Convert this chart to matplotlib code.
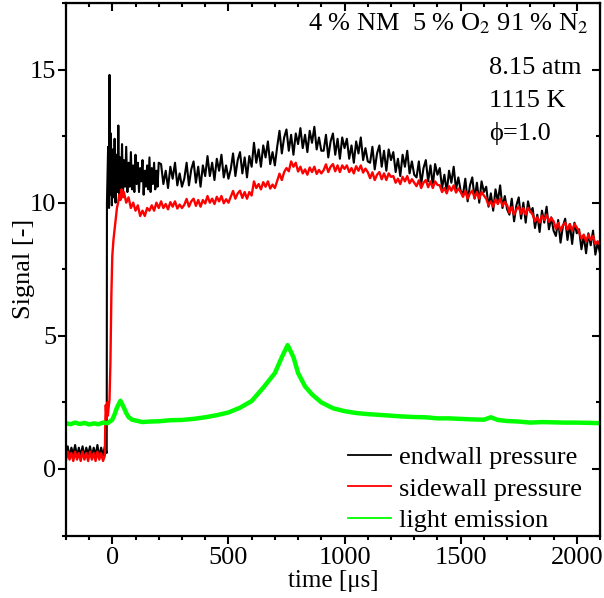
import matplotlib
matplotlib.use("Agg")
import matplotlib.pyplot as plt
from matplotlib.ticker import MultipleLocator

plt.rcParams['font.family'] = ['Liberation Serif', 'DejaVu Serif']
plt.rcParams['mathtext.fontset'] = 'stix'

# endwall pressure (black)
t_end_pre = [-200, -192, -184, -176, -168, -160, -152, -144, -136, -128, -120, -112, -104, -96,
             -88, -80, -72, -64, -56, -48, -40, -32, -24]
v_end_pre = [0.5, 0.85, 0.45, 0.8, 0.55, 0.9, 0.45, 0.8, 0.5, 0.85, 0.45, 0.8, 0.55, 0.85,
             0.45, 0.8, 0.5, 0.9, 0.45, 0.8, 0.5, 0.85, 0.6]
t_end_early = [-23, -18, -14, -12, -10, -6, -2, 2, 6, 10, 14, 18, 22, 26, 30, 34, 38, 42, 46, 50,
               55, 60, 65, 70, 75, 80, 85, 90, 95, 100, 105, 110, 115, 120, 125, 130, 135, 140,
               145, 150, 155, 160, 165, 170, 175, 180, 185, 190, 195, 200]
v_end_early = [10.0, 12.1, 9.8, 14.8, 10.3, 12.6, 9.9, 12.0, 10.2, 12.4, 10.0, 11.8, 10.4, 12.9,
               10.3, 11.7, 10.5, 12.2, 10.3, 11.6, 10.6, 12.1, 10.4, 11.5, 10.6, 11.9, 10.5, 11.4,
               10.4, 11.8, 10.7, 11.5, 10.4, 11.3, 10.8, 11.6, 10.3, 11.2, 10.6, 11.4, 10.5, 11.7,
               10.4, 11.3, 10.7, 11.5, 10.5, 11.2, 10.6, 11.5]
t_end_late = list(range(210, 2101, 10))
v_end_late = [
    11.45, 10.7, 11.2, 10.55, 11.35, 10.9, 11.5, 10.65, 11.1, 10.6,
    10.9, 11.5, 10.65, 11.25, 11.55, 10.75, 11.35, 10.6, 11.4, 11.0,
    11.75, 11.0, 11.5, 10.85, 11.65, 11.2, 11.8, 10.95, 11.4, 10.9,
    11.25, 11.85, 11.0, 11.6, 11.9, 11.1, 11.7, 10.95, 11.75, 11.35,
    12.25, 11.5, 12.0, 11.35, 12.15, 11.7, 12.3, 11.45, 11.9, 11.4,
    12.1, 12.7, 11.85, 12.45, 12.75, 11.95, 12.55, 11.8, 12.6, 12.2,
    12.8, 12.05, 12.55, 11.9, 12.7, 12.25, 12.85, 12.0, 12.45, 11.95,
    11.95, 12.55, 11.7, 12.3, 12.6, 11.8, 12.4, 11.65, 12.45, 12.05,
    12.4, 11.65, 12.15, 11.5, 12.3, 11.85, 12.45, 11.6, 12.05, 11.55,
    11.5, 12.1, 11.25, 11.85, 12.15, 11.35, 11.95, 11.2, 12.0, 11.6,
    11.9, 11.15, 11.65, 11.0, 11.8, 11.35, 11.95, 11.1, 11.55, 11.05,
    10.95, 11.55, 10.7, 11.3, 11.6, 10.8, 11.4, 10.65, 11.45, 11.05,
    11.3, 10.55, 11.05, 10.4, 11.2, 10.75, 11.35, 10.5, 10.95, 10.45,
    10.3, 10.9, 10.05, 10.65, 10.95, 10.15, 10.75, 10.0, 10.8, 10.4,
    10.6, 9.85, 10.35, 9.7, 10.5, 10.05, 10.65, 9.8, 10.25, 9.75,
    9.55, 10.15, 9.3, 9.9, 10.2, 9.4, 10.0, 9.25, 10.05, 9.65,
    9.8, 9.05, 9.55, 8.9, 9.7, 9.25, 9.85, 9.0, 9.45, 8.95,
    8.75, 9.35, 8.5, 9.1, 9.4, 8.6, 9.2, 8.45, 9.25, 8.85,
    9.0, 8.25, 8.75, 8.1, 8.85, 8.4, 8.95, 8.05, 8.5, 8.1]

# sidewall pressure (red)
t_side_pre = [-200, -192, -184, -176, -168, -160, -152, -144, -136, -128, -120, -112, -104, -96,
              -88, -80, -72, -64, -56, -48, -40, -32]
v_side_pre = [0.3, 0.65, 0.35, 0.6, 0.3, 0.65, 0.35, 0.6, 0.3, 0.65, 0.35, 0.6, 0.3, 0.65,
              0.35, 0.6, 0.3, 0.65, 0.35, 0.6, 0.3, 0.5]
t_side_early = [-30, -28, -25, -22, -19, -16, -12, -8, -4, 0, 5, 10, 15, 20, 25, 30, 35, 40, 45,
                50, 60, 70, 80, 90, 100, 110, 120, 130, 140, 150, 160, 170, 180, 190, 200]
v_side_early = [1.8, 2.4, 1.9, 2.5, 2.0, 2.3, 2.6, 4.0, 6.5, 8.0, 8.6, 9.0, 9.4, 9.8, 10.0,
                10.3, 10.1, 10.5, 10.2, 10.4, 10.0, 10.2, 9.8, 10.0, 9.7, 9.9, 9.5, 9.7, 9.5,
                9.8, 9.7, 9.9, 9.7, 10.0, 9.8]
t_side_late = list(range(210, 2101, 10))
v_side_late = [
    10.05, 9.8, 9.95, 9.75, 10.02, 9.85, 10.05, 9.78, 9.93, 9.8,
    9.92, 10.14, 9.85, 10.05, 10.15, 9.88, 10.1, 9.85, 10.1, 9.97,
    10.25, 10.0, 10.15, 9.95, 10.22, 10.05, 10.25, 9.98, 10.13, 10.0,
    10.22, 10.44, 10.15, 10.35, 10.45, 10.18, 10.4, 10.15, 10.4, 10.27,
    10.8, 10.55, 10.7, 10.5, 10.77, 10.6, 10.8, 10.53, 10.68, 10.55,
    10.82, 11.09, 10.85, 11.15, 11.3, 11.18, 11.55, 11.35, 11.5, 11.17,
    11.35, 11.1, 11.25, 11.05, 11.32, 11.15, 11.35, 11.08, 11.23, 11.1,
    11.22, 11.44, 11.15, 11.35, 11.45, 11.18, 11.4, 11.15, 11.4, 11.27,
    11.4, 11.15, 11.3, 11.1, 11.37, 11.2, 11.4, 11.13, 11.28, 11.15,
    10.92, 11.14, 10.85, 11.05, 11.15, 10.88, 11.1, 10.85, 11.1, 10.97,
    11.0, 10.75, 10.9, 10.7, 10.97, 10.8, 11.0, 10.73, 10.88, 10.75,
    10.62, 10.84, 10.55, 10.75, 10.85, 10.58, 10.8, 10.55, 10.8, 10.67,
    10.65, 10.4, 10.55, 10.35, 10.62, 10.45, 10.65, 10.38, 10.53, 10.4,
    10.22, 10.44, 10.15, 10.35, 10.45, 10.18, 10.4, 10.15, 10.4, 10.27,
    10.15, 9.9, 10.05, 9.85, 10.12, 9.95, 10.15, 9.88, 10.03, 9.9,
    9.62, 9.84, 9.55, 9.75, 9.85, 9.58, 9.8, 9.55, 9.8, 9.67,
    9.55, 9.3, 9.45, 9.25, 9.52, 9.35, 9.55, 9.28, 9.43, 9.3,
    9.02, 9.24, 8.95, 9.15, 9.25, 8.98, 9.2, 8.95, 9.2, 9.07,
    8.9, 8.65, 8.8, 8.55, 8.8, 8.6, 8.75, 8.45, 8.55, 8.4]

# light emission (green)
t_light = [-200, -180, -160, -140, -120, -100, -80, -60, -40, -20, 0, 10, 20, 35, 50, 60, 70,
           85, 100, 130, 160, 200, 250, 300, 350, 400, 450, 500, 550, 600, 650, 700, 730, 755,
           780, 800, 830, 860, 900, 950, 1000, 1050, 1100, 1150, 1200, 1250, 1300, 1350, 1400,
           1450, 1500, 1550, 1600, 1630, 1660, 1700, 1750, 1800, 1850, 1900, 1950, 2000, 2050,
           2100]
v_light = [1.72, 1.68, 1.74, 1.69, 1.73, 1.67, 1.71, 1.68, 1.74, 1.72, 1.85, 2.05, 2.3, 2.56,
           2.3, 2.1, 1.95, 1.85, 1.82, 1.76, 1.78, 1.79, 1.83, 1.84, 1.88, 1.94, 2.02, 2.12,
           2.3, 2.55, 3.05, 3.6, 4.2, 4.65, 4.2, 3.6, 3.1, 2.8, 2.5, 2.28, 2.17, 2.1, 2.06,
           2.03, 2.0, 1.97, 1.95, 1.94, 1.9, 1.9, 1.88, 1.86, 1.85, 1.94, 1.84, 1.8, 1.78, 1.74,
           1.76, 1.75, 1.74, 1.74, 1.73, 1.72]

fs = 19

fig = plt.figure(figsize=(6.04, 5.98), dpi=100)
ax = fig.add_axes([0.109, 0.1045, 0.8844, 0.8905])

ax.plot(t_end_pre + t_end_early + t_end_late, v_end_pre + v_end_early + v_end_late,
        color='black', lw=1.5, label='endwall pressure')
ax.plot(t_side_pre + t_side_early + t_side_late, v_side_pre + v_side_early + v_side_late,
        color='#ff0000', lw=1.7, label='sidewall pressure')
ax.plot(t_light, v_light, color='#00ff00', lw=3.2, label='light emission')

ax.set_xlim(-200, 2100)
ax.set_ylim(-2.5, 17.5)
ax.xaxis.set_major_locator(MultipleLocator(500))
ax.xaxis.set_minor_locator(MultipleLocator(100))
ax.yaxis.set_major_locator(MultipleLocator(5))
ax.yaxis.set_minor_locator(MultipleLocator(2.5))
ax.tick_params(which='both', direction='out', top=False, right=False, width=1.5, labelsize=fs)
ax.tick_params(which='major', length=6)
ax.tick_params(which='minor', length=3)
ax.tick_params(axis='y', pad=1)
ax.tick_params(axis='x', pad=2)
for s in ax.spines.values():
    s.set_linewidth(1.6)

# inward ticks on top and right
sx = ax.secondary_xaxis('top')
sx.xaxis.set_major_locator(MultipleLocator(500))
sx.xaxis.set_minor_locator(MultipleLocator(100))
sx.tick_params(which='both', direction='in', width=1.5, labeltop=False)
sx.tick_params(which='major', length=6)
sx.tick_params(which='minor', length=3)
sy = ax.secondary_yaxis('right')
sy.yaxis.set_major_locator(MultipleLocator(5))
sy.yaxis.set_minor_locator(MultipleLocator(2.5))
sy.tick_params(which='both', direction='in', width=1.5, labelright=False)
sy.tick_params(which='major', length=6)
sy.tick_params(which='minor', length=3)

ax.set_xlabel('time [μs]', fontsize=18, labelpad=1)
ax.set_ylabel('Signal [-]', fontsize=fs, labelpad=-4)

ax.text(0.978, 0.949, '4 % NM  5 % O$_2$ 91 % N$_2$', transform=ax.transAxes,
        ha='right', va='baseline', fontsize=fs)
ax.text(0.793, 0.8667, '8.15 atm', transform=ax.transAxes, ha='left', va='baseline', fontsize=fs)
ax.text(0.793, 0.8047, '1115 K', transform=ax.transAxes, ha='left', va='baseline', fontsize=fs)
ax.text(0.793, 0.7427, 'ϕ=1.0', transform=ax.transAxes, ha='left', va='baseline', fontsize=fs)

leg = ax.legend(loc='lower right', bbox_to_anchor=(1.0, -0.028), frameon=False, fontsize=fs,
                handlelength=1.63, handletextpad=0.3, labelspacing=0.3, borderaxespad=0.3)
for h in leg.get_lines():
    h.set_linewidth(1.3)

fig.savefig('out.png', dpi=100)
